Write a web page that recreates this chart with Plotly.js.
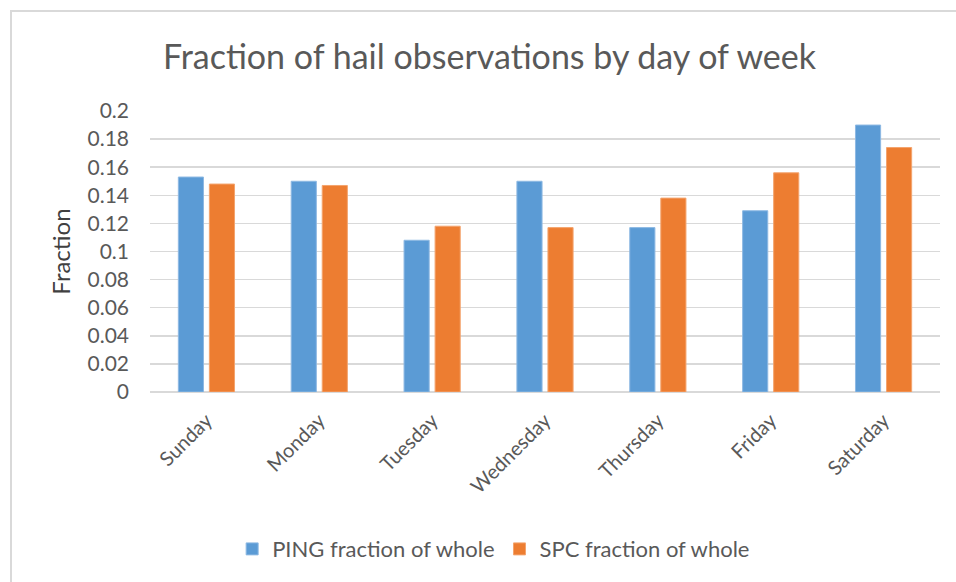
<!DOCTYPE html>
<html>
<head>
<meta charset="utf-8">
<script src="https://cdn.plot.ly/plotly-3.0.1.min.js"></script>
<style>
  html, body { margin: 0; padding: 0; background: #fff; }
  #frame { position: absolute; left: 10px; top: 10px; width: 960px; height: 600px;
           border-left: 2px solid #d9d9d9; border-top: 2px solid #d9d9d9; pointer-events: none; z-index: 5; }
  #chart { position: absolute; left: 0; top: 0; width: 956px; height: 582px; }
</style>
</head>
<body>
<div id="chart"></div>
<div id="frame"></div>
<script>
const days = ["Sunday", "Monday", "Tuesday", "Wednesday", "Thursday", "Friday", "Saturday"];
const pingFraction = [0.153, 0.150, 0.108, 0.150, 0.117, 0.129, 0.190];
const spcFraction  = [0.148, 0.147, 0.118, 0.117, 0.138, 0.156, 0.174];
const seriesNames = ["PING fraction of whole", "SPC fraction of whole"];
const yTicks = [0, 0.02, 0.04, 0.06, 0.08, 0.1, 0.12, 0.14, 0.16, 0.18, 0.2];
const yTickText = ["0", "0.02", "0.04", "0.06", "0.08", "0.1", "0.12", "0.14", "0.16", "0.18", "0.2"];

const font = "Lato, 'Noto Sans', sans-serif";
const grey = "#595959";

const data = [
  { type: "bar", name: seriesNames[0], x: days, y: pingFraction,
    marker: { color: "#5B9BD5", line: { color: "#8DB9E3", width: 1 } } },
  { type: "bar", name: seriesNames[1], x: days, y: spcFraction,
    marker: { color: "#ED7D31", line: { color: "#F4A46E", width: 1 } } }
];

const layout = {
  width: 956, height: 582,
  margin: { l: 149.5, r: 15.5, t: 111, b: 190 },
  paper_bgcolor: "#fff", plot_bgcolor: "#fff",
  barmode: "group", bargap: 0.45, bargroupgap: 0.19,
  title: { text: "Fraction of hail observations by day of week",
           font: { family: font, size: 34, color: grey },
           x: 0.512, xanchor: "center", y: 0.902, yanchor: "middle", yref: "container" },
  xaxis: { tickangle: -45, tickfont: { family: font, size: 20, color: grey }, automargin: false,
           showgrid: false, zeroline: false, showline: false, ticks: "", ticklabelstandoff: 12, fixedrange: true },
  yaxis: { range: [0, 0.2], tickvals: yTicks, ticktext: yTickText, automargin: false,
           tickfont: { family: font, size: 21, color: grey },
           gridcolor: "#d9d9d9", gridwidth: 1.5, zeroline: true, zerolinecolor: "#d9d9d9", zerolinewidth: 1.5,
           showline: false, ticks: "", ticklabelstandoff: 20,
           title: { text: "Fraction", font: { family: font, size: 24, color: "#404040" }, standoff: 10 } },
  showlegend: true,
  legend: { orientation: "h", x: 0.435, xanchor: "center", y: -0.559, yanchor: "middle",
            font: { family: font, size: 22, color: grey }, traceorder: "normal" }
};

Plotly.newPlot("chart", data, layout, { staticPlot: true, displayModeBar: false });
</script>
</body>
</html>
